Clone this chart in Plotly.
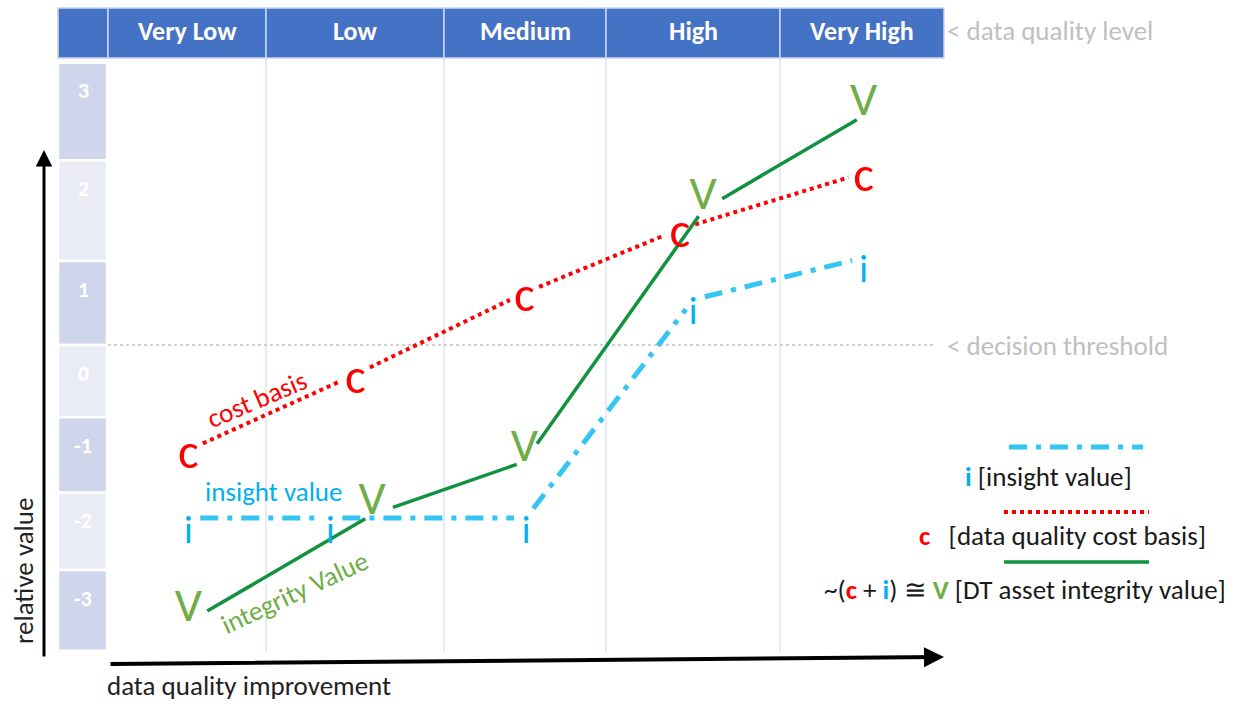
import math
import plotly.graph_objects as go

# ---------------- data ----------------
levels = ["Very Low", "Low", "Medium", "High", "Very High"]
value_labels = ["3", "2", "1", "0", "-1", "-2", "-3"]
value_band_edges = [3.36, 2.20, 1.00, 0.00, -0.86, -1.76, -2.68, -3.64]

cost_x = [0.48, 1.48, 2.49, 3.42, 4.52]
cost_y = [-1.25, -0.35, 0.62, 1.38, 2.05]

insight_x = [0.48, 1.33, 2.50, 3.50, 4.52]
insight_y = [-2.06, -2.06, -2.06, 0.54, 1.04]

integrity_x = [0.48, 1.58, 2.49, 3.56, 4.52]
integrity_y = [-3.30, -2.02, -1.39, 1.61, 2.73]

decision_threshold = 0.0

# ---------------- layout helpers (pixel <-> axis units) ----------------
W, H = 1238, 704
X0_PX, PX_PER_X = 108.0, 167.2
Y0_PX, PX_PER_Y = 345.0, 84.0


def ux(px):
    return (px - X0_PX) / PX_PER_X


def uy(py):
    return (Y0_PX - py) / PX_PER_Y


def trimmed(xs, ys, t0, t1):
    ox, oy = [], []
    for k in range(len(xs) - 1):
        ax, ay = X0_PX + PX_PER_X * xs[k], Y0_PX - PX_PER_Y * ys[k]
        bx, by = X0_PX + PX_PER_X * xs[k + 1], Y0_PX - PX_PER_Y * ys[k + 1]
        L = math.hypot(bx - ax, by - ay)
        dx, dy = (bx - ax) / L, (by - ay) / L
        ox += [ux(ax + dx * t0), ux(bx - dx * t1), None]
        oy += [uy(ay + dy * t0), uy(by - dy * t1), None]
    return ox, oy


FONT = "Carlito, Lato, 'Open Sans', sans-serif"
TXT = 27
RED = "#FF0000"
BLUE = "#00B0F0"
BLUE_LINE = "#35C5F3"
GREEN = "#70AD47"
GREEN_LINE = "#12913F"
GREY = "#BFBFBF"
HEADER = "#4472C4"

col_edges_px = [108, 266, 444, 606, 780, 944]

fig = go.Figure()
shapes = []
ann = []

# header row
shapes.append(dict(type="rect", xref="x", yref="y", x0=ux(58), x1=ux(108), y0=uy(58), y1=uy(8),
                   fillcolor=HEADER, line=dict(color="#C9D6EE", width=1.5), layer="below"))
for k, name in enumerate(levels):
    shapes.append(dict(type="rect", xref="x", yref="y", x0=ux(col_edges_px[k]), x1=ux(col_edges_px[k + 1]),
                       y0=uy(58), y1=uy(8), fillcolor=HEADER, line=dict(color="#C9D6EE", width=1.5),
                       layer="below"))
    ann.append(dict(x=ux((col_edges_px[k] + col_edges_px[k + 1]) / 2), y=uy(31), xref="x", yref="y",
                    text="<b>%s</b>" % name, showarrow=False,
                    font=dict(family=FONT, size=26, color="white")))

# vertical grid lines
for e in col_edges_px[1:-1]:
    shapes.append(dict(type="line", xref="x", yref="y", x0=ux(e), x1=ux(e), y0=uy(58), y1=uy(652),
                       line=dict(color="#D6E0F2", width=1.2), layer="below"))

# value band column
for k, lab in enumerate(value_labels):
    top, bot = value_band_edges[k], value_band_edges[k + 1]
    shapes.append(dict(type="rect", xref="x", yref="y", x0=ux(58), x1=ux(107), y0=bot, y1=top,
                       fillcolor="#CFD5EA" if k % 2 == 0 else "#E9EBF5",
                       line=dict(color="white", width=2.5), layer="below"))
    ann.append(dict(x=ux(83), y=top, xref="x", yref="y", text="<b>%s</b>" % lab, showarrow=False,
                    yshift=-28, yanchor="middle", font=dict(family=FONT, size=22, color="white")))

# decision threshold
shapes.append(dict(type="line", xref="x", yref="y", x0=ux(108), x1=ux(934), y0=decision_threshold,
                   y1=decision_threshold, line=dict(color="#A6A6A6", width=1, dash="dot"), layer="below"))

# axis arrows
ann.append(dict(x=ux(44), y=uy(150), ax=ux(44), ay=uy(658), xref="x", yref="y", axref="x", ayref="y",
                text="", showarrow=True, arrowhead=2, arrowsize=1.1, arrowwidth=3, arrowcolor="black",
                standoff=0, startstandoff=0))
ann.append(dict(x=ux(944), y=uy(657), ax=ux(109), ay=uy(664), xref="x", yref="y", axref="x", ayref="y",
                text="", showarrow=True, arrowhead=2, arrowsize=1.0, arrowwidth=4, arrowcolor="black",
                standoff=0, startstandoff=0))

# series lines (trimmed around the letter markers)
cx, cy = trimmed(cost_x, cost_y, 16, 16)
ix, iy = trimmed(insight_x, insight_y, 12, 12)
vx, vy = trimmed(integrity_x, integrity_y, 22, 8)
fig.add_trace(go.Scatter(x=cx, y=cy, mode="lines", line=dict(color=RED, width=4, dash="dot"),
                         hoverinfo="skip", showlegend=False))
fig.add_trace(go.Scatter(x=ix, y=iy, mode="lines",
                         line=dict(color=BLUE_LINE, width=5, dash="18px,9px,5px,9px"),
                         hoverinfo="skip", showlegend=False))
fig.add_trace(go.Scatter(x=vx, y=vy, mode="lines", line=dict(color=GREEN_LINE, width=3.5),
                         hoverinfo="skip", showlegend=False))

# letter markers
fig.add_trace(go.Scatter(x=cost_x, y=[v - 6 / PX_PER_Y for v in cost_y], mode="text", text=["c"] * 5,
                         textposition="middle center", textfont=dict(family=FONT, size=49, color=RED),
                         hoverinfo="skip", showlegend=False, cliponaxis=False))
fig.add_trace(go.Scatter(x=insight_x, y=[v - 15 / PX_PER_Y for v in insight_y], mode="text", text=["i"] * 5,
                         textposition="middle center", textfont=dict(family=FONT, size=38, color=BLUE),
                         hoverinfo="skip", showlegend=False, cliponaxis=False))
fig.add_trace(go.Scatter(x=integrity_x, y=[v + 13 / PX_PER_Y for v in integrity_y], mode="text",
                         text=["V"] * 5, textposition="middle center",
                         textfont=dict(family=FONT, size=48, color=GREEN),
                         hoverinfo="skip", showlegend=False, cliponaxis=False))

# in-chart labels
ann.append(dict(x=ux(256), y=uy(399), xref="x", yref="y", text="cost basis", showarrow=False, textangle=-23,
                font=dict(family=FONT, size=TXT, color=RED)))
ann.append(dict(x=ux(273), y=uy(491), xref="x", yref="y", text="insight value", showarrow=False,
                borderpad=0, font=dict(family=FONT, size=TXT, color=BLUE)))
ann.append(dict(x=ux(294), y=uy(592), xref="x", yref="y", text="integrity Value", showarrow=False,
                textangle=-25, font=dict(family=FONT, size=TXT, color=GREEN)))

# right side notes
ann.append(dict(x=ux(945), y=uy(30), xref="x", yref="y", text="< data quality level", showarrow=False,
                xanchor="left", font=dict(family=FONT, size=TXT, color=GREY)))
ann.append(dict(x=ux(945), y=decision_threshold, xref="x", yref="y", text="< decision threshold",
                showarrow=False, xanchor="left", font=dict(family=FONT, size=TXT, color=GREY)))

# axis titles
ann.append(dict(x=ux(23), y=uy(571), xref="x", yref="y", text="relative value", showarrow=False,
                textangle=-90, font=dict(family=FONT, size=TXT, color="#222222")))
ann.append(dict(x=ux(106), y=uy(685), xref="x", yref="y", text="data quality improvement", showarrow=False,
                xanchor="left", borderpad=0, font=dict(family=FONT, size=27, color="#222222")))

# legend (drawn manually)
shapes.append(dict(type="line", xref="x", yref="y", x0=ux(1009), x1=ux(1143), y0=uy(447), y1=uy(447),
                   line=dict(color=BLUE_LINE, width=5, dash="18px,9px,5px,9px")))
shapes.append(dict(type="line", xref="x", yref="y", x0=ux(1004), x1=ux(1149), y0=uy(512), y1=uy(512),
                   line=dict(color=RED, width=4, dash="dot")))
shapes.append(dict(type="line", xref="x", yref="y", x0=ux(1004), x1=ux(1149), y0=uy(562), y1=uy(562),
                   line=dict(color=GREEN_LINE, width=3.5)))
nb = "\u00a0"
ann.append(dict(x=ux(1048), y=uy(476), xref="x", yref="y", showarrow=False,
                text="<span style='color:%s'><b>i</b></span> [insight value]" % BLUE,
                font=dict(family=FONT, size=TXT, color="#1a1a1a")))
ann.append(dict(x=ux(1062), y=uy(535), xref="x", yref="y", showarrow=False,
                text="<span style='color:%s'><b>c</b></span>%s%s [data quality cost basis]" % (RED, nb, nb),
                font=dict(family=FONT, size=TXT, color="#1a1a1a")))
ann.append(dict(x=ux(1025), y=uy(589), xref="x", yref="y", showarrow=False,
                text="~(<span style='color:%s'><b>c</b></span> + <span style='color:%s'><b>i</b></span>) \u2245 "
                     "<span style='color:%s'><b>V</b></span> [DT asset integrity value]" % (RED, BLUE, GREEN),
                font=dict(family=FONT, size=TXT, color="#1a1a1a")))

fig.update_layout(
    width=W, height=H,
    margin=dict(l=0, r=0, t=0, b=0),
    paper_bgcolor="white", plot_bgcolor="white",
    xaxis=dict(range=[ux(0), ux(W)], visible=False, fixedrange=True),
    yaxis=dict(range=[uy(H), uy(0)], visible=False, fixedrange=True),
    shapes=shapes, annotations=ann, showlegend=False,
)

fig.write_html("out.html", config={"displayModeBar": False})
